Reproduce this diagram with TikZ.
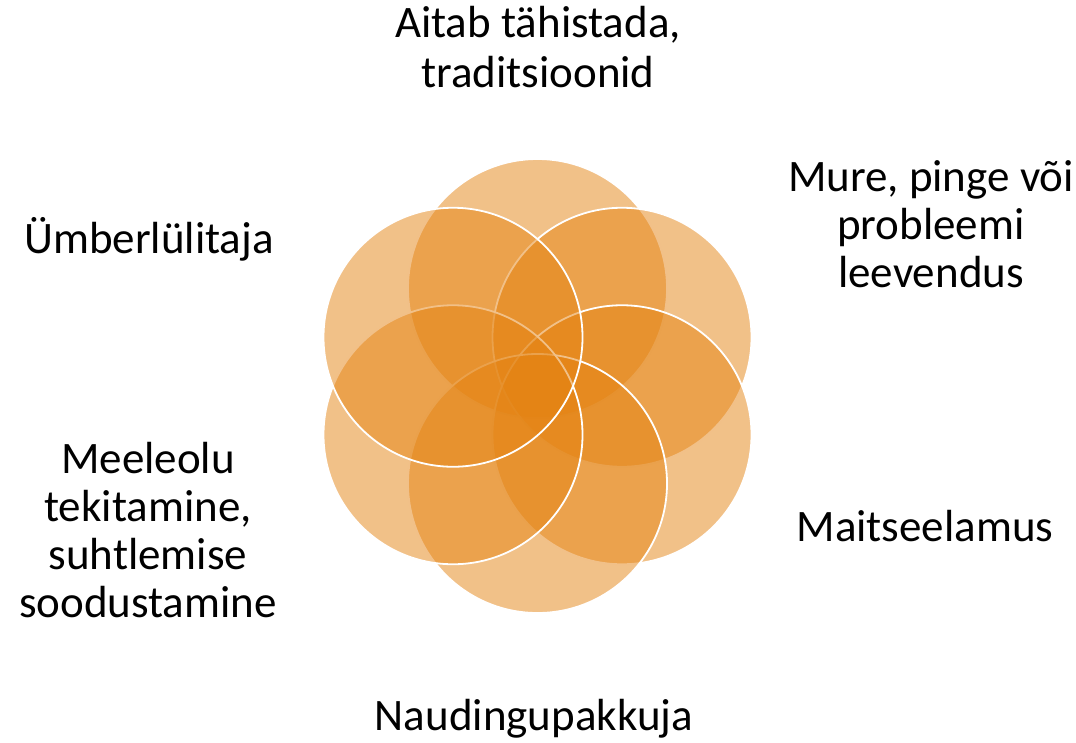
\documentclass[tikz,border=0pt]{standalone}
\usepackage{fontspec}
\setmainfont{Carlito}
\usetikzlibrary{positioning}
\definecolor{petalorange}{RGB}{228,131,18}

\begin{document}
\begin{tikzpicture}[
    x=1pt, y=-1pt,
    petal/.style={circle, minimum size=259pt, inner sep=0pt, fill=petalorange, fill opacity=0.5, draw=white, line width=1.8pt},
    lbltext/.style={align=center, anchor=base, inner sep=0pt, font=\fontsize{45}{48}\selectfont},
    ]
    \useasboundingbox (0,0) rectangle (1076,742);

    %% petals, drawn clockwise from the top
    \node[petal] (p_top) at (537.5,288.5) {};
    \node[petal] (p_ur)  at (622,337.25) {};
    \node[petal] (p_lr)  at (622,434.75) {};
    \node[petal] (p_bot) at (537.5,483.5) {};
    \node[petal] (p_ll)  at (453,434.75) {};
    \node[petal] (p_ul)  at (453,337.25) {};

    %% labels (anchored on the baseline of the last line)
    \node[lbltext] (t_top) at (538,87)  {Aitab tähistada,\\[2pt]traditsioonid};
    \node[lbltext] (t_ur)  at (931,287) {Mure, pinge või\\probleemi\\leevendus};
    \node[lbltext] (t_lr)  at (925,541) {Maitseelamus};
    \node[lbltext] (t_bot) at (534,730) {Naudingupakkuja};
    \node[lbltext] (t_ll)  at (148,617) {Meeleolu\\tekitamine,\\suhtlemise\\soodustamine};
    \node[lbltext] (t_ul)  at (149,253) {Ümberlülitaja};
\end{tikzpicture}
\end{document}
